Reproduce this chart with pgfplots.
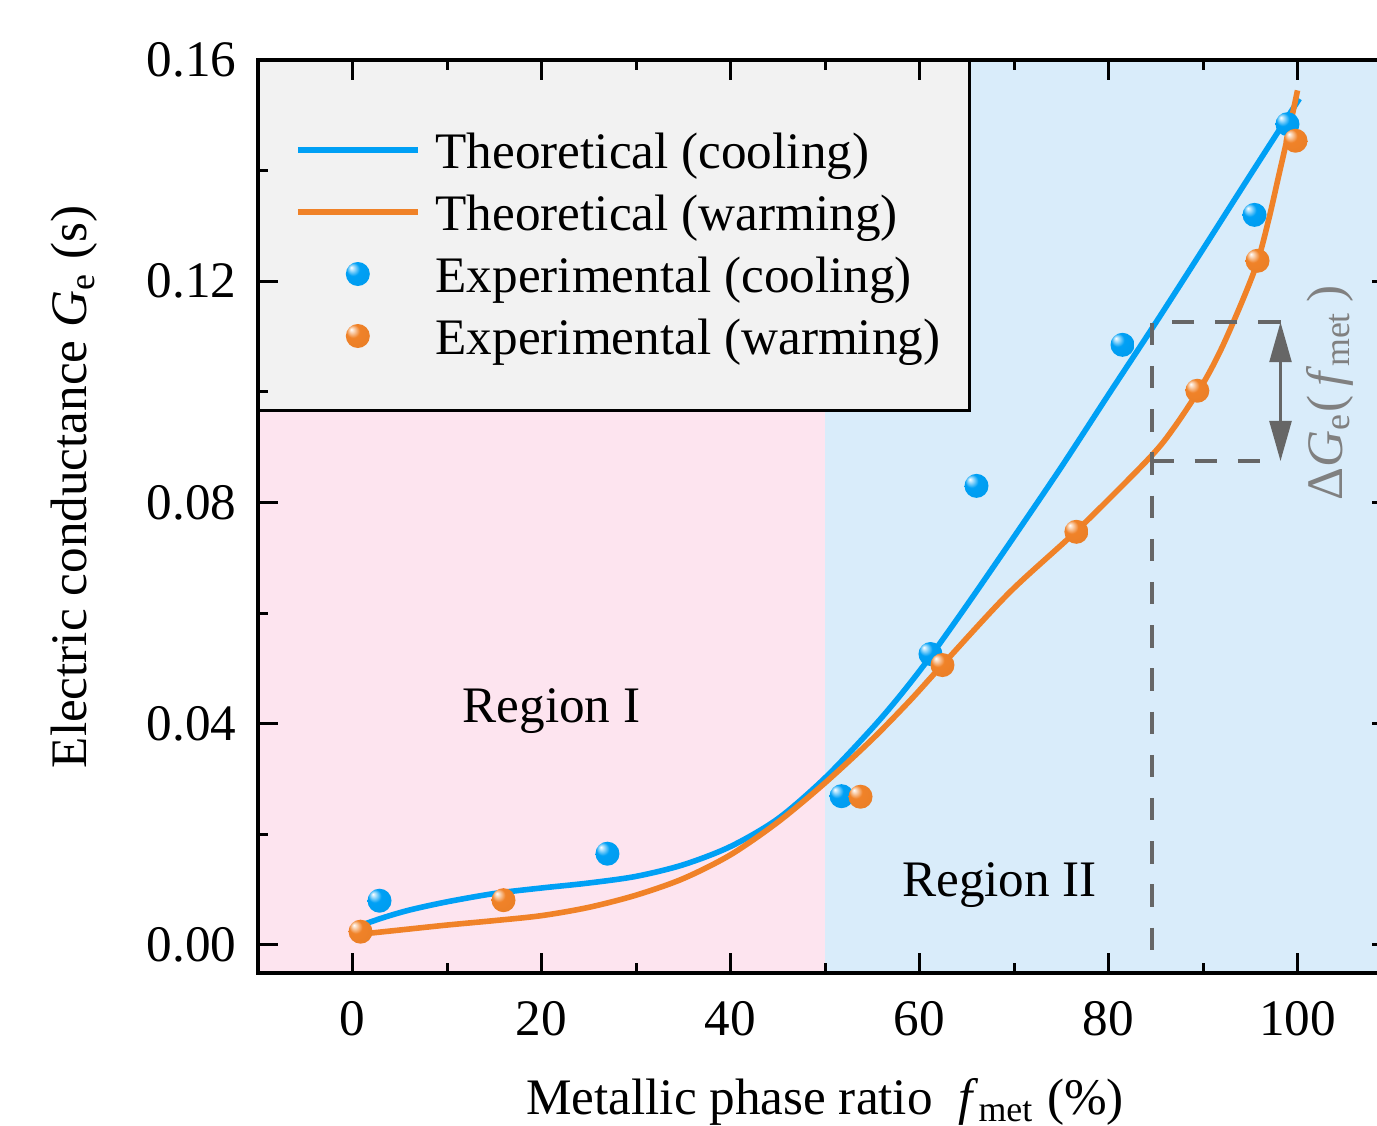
\documentclass[border=0pt]{standalone}
\usepackage{fontspec}
\setmainfont{Liberation Serif}
\usepackage{pgfplots}
\pgfplotsset{compat=1.18}
\usetikzlibrary{arrows.meta}

\definecolor{cblue}{RGB}{0,160,245}
\definecolor{corange}{RGB}{240,130,40}
\definecolor{pinkreg}{RGB}{253,228,239}
\definecolor{bluereg}{RGB}{217,236,250}
\definecolor{legbg}{RGB}{242,242,242}
\definecolor{annogray}{RGB}{102,102,102}
\definecolor{labgray}{RGB}{128,128,128}

% shiny balls for the experimental points
\pgfdeclareradialshading{bshade}{\pgfpoint{-14bp}{14bp}}{color(0bp)=(white); color(5bp)=(cblue!35!white); color(14bp)=(cblue); color(45bp)=(cblue!96!black); color(50bp)=(cblue!90!black)}
\pgfdeclareradialshading{oshade}{\pgfpoint{-14bp}{14bp}}{color(0bp)=(white); color(5bp)=(corange!35!white); color(14bp)=(corange); color(45bp)=(corange!96!black); color(50bp)=(corange!90!black)}
\pgfdeclareplotmark{bball}{\pgfpathcircle{\pgfpointorigin}{\pgfplotmarksize}\pgfshadepath{bshade}{0}\pgfusepath{}}
\pgfdeclareplotmark{oball}{\pgfpathcircle{\pgfpointorigin}{\pgfplotmarksize}\pgfshadepath{oshade}{0}\pgfusepath{}}

\newcommand{\fs}{\fontsize{12.8}{15.4}\selectfont}

\begin{document}
\begin{tikzpicture}
\begin{axis}[
    name=ax,
    scale only axis,
    width=283.5pt, height=228.15pt,
    xmin=-10, xmax=110, ymin=-0.005, ymax=0.16,
    xtick={0,20,...,100}, minor x tick num=1,
    ytick={0,0.04,0.08,0.12,0.16}, minor y tick num=1,
    scaled y ticks=false,
    tick align=inside,
    major tick length=5pt, minor tick length=2.5pt,
    every tick/.style={black, line width=0.75pt},
    axis line style={line width=1pt},
    axis on top,
    /pgf/number format/assume math mode=true,
    tick label style={font=\fs},
    yticklabel style={/pgf/number format/fixed, /pgf/number format/fixed zerofill,
        /pgf/number format/precision=2, inner sep=0pt, xshift=-5.25pt},
    xticklabel style={inner sep=0pt, yshift=-7pt},
    xlabel={Metallic phase ratio~ \textit{f}\textsubscript{met} (\%)},
    xlabel style={at={(axis description cs:0.5,-0.155)}, anchor=base, inner sep=0pt, font=\fs},
    ylabel={Electric conductance \textit{G}\textsubscript{e} (s)},
    ylabel style={at={(axis description cs:-0.1508,0.532)}, anchor=base, inner sep=0pt, font=\fs},
    legend style={at={(axis cs:-6.08,0.14915)}, anchor=north west, draw=none, fill=none,
        inner sep=0pt, outer sep=0pt, row sep=0.5pt, column sep=3.75pt, font=\fs,
        nodes={inner sep=0pt, text height=12pt, text depth=3pt}},
    legend cell align=left,
    legend image code/.code={\draw[mark repeat=2,mark phase=2,#1] plot coordinates {(0pt,0pt) (15pt,0pt) (30pt,0pt)};},
]

% regions and legend box
\fill[pinkreg] (axis cs:-10,-0.005) rectangle (axis cs:50,0.16);
\fill[bluereg] (axis cs:50,-0.005) rectangle (axis cs:110,0.16);
\filldraw[fill=legbg, draw=black, line width=0.75pt] (axis cs:-11,0.0967) rectangle (axis cs:65.3,0.17);

\addplot[cblue, line width=1.4pt, smooth, tension=0.5] coordinates {
    (0,0.0030) (3,0.0048) (6,0.0063) (10,0.0078) (15,0.0093) (20,0.0103)
    (25,0.0112) (30,0.0124) (35,0.0145) (40,0.0178) (45,0.0228) (50,0.0302)
    (55,0.0392) (58,0.0452) (61,0.0518) (65,0.0614) (70,0.0738) (75,0.0864)
    (80,0.0995) (85,0.1125) (90,0.1258) (95,0.1392) (100.2,0.1530)
};
\addlegendentry{Theoretical (cooling)}
\addplot[corange, line width=1.4pt, smooth, tension=0.5] coordinates {
    (0,0.0018) (5,0.0027) (10,0.0036) (15,0.0044) (20,0.0053) (25,0.0068)
    (30,0.0090) (35,0.0120) (40,0.0163) (45,0.0222) (50,0.0293) (55,0.0372)
    (59,0.0442) (62.4,0.0506) (69.5,0.0637) (76.7,0.0750)
    (84.3,0.0880) (87,0.0937) (90,0.1015) (92,0.1080) (94.2,0.1166) (95.8,0.1237)
    (97,0.1315) (98,0.1390) (99,0.1465) (100,0.1545)
};
\addlegendentry{Theoretical (warming)}

% Delta G annotation
\draw[annogray, line width=1pt, dash pattern=on 5.6pt off 5.2pt]
    (axis cs:98.2,0.1126) -- (axis cs:84.55,0.1126) -- (axis cs:84.55,-0.005);
\draw[annogray, line width=1pt, dash pattern=on 5.6pt off 5.2pt]
    (axis cs:84.55,0.0875) -- (axis cs:98.2,0.0875);
\draw[annogray, line width=0.6pt, {Triangle[length=10pt,width=5.5pt]}-{Triangle[length=10pt,width=5.5pt]}]
    (axis cs:98.2,0.1126) -- (axis cs:98.2,0.0875);

\addplot[only marks, mark=bball, mark size=3pt] coordinates {
    (2.86,0.0080) (26.98,0.0165) (51.75,0.0269) (61.16,0.0526)
    (66.03,0.0830) (81.48,0.1085) (95.45,0.1320) (98.94,0.1484)
};
\addlegendentry{Experimental (cooling)}
\addplot[only marks, mark=oball, mark size=3pt] coordinates {
    (0.85,0.0024) (15.98,0.0081) (53.76,0.0268) (62.43,0.0506)
    (76.6,0.0747) (89.4,0.1002) (95.77,0.1237) (99.79,0.1454)
};
\addlegendentry{Experimental (warming)}

\node[font=\fs, anchor=base] at (axis cs:21.06,0.0403) {Region I};
\node[font=\fs, anchor=base] at (axis cs:68.47,0.0087) {Region II};
\node[font=\fs, text=labgray, rotate=90, inner sep=0pt] at (axis cs:103.4,0.0998)
    {Δ\textit{G}\textsubscript{e}(\,\textit{f}\textsubscript{met}\,)};
\end{axis}
\pgfresetboundingbox
\useasboundingbox ([shift={(-64.5pt,-38.3pt)}]ax.south west) rectangle ([shift={(279.75pt,15pt)}]ax.north west);
\end{tikzpicture}
\end{document}
